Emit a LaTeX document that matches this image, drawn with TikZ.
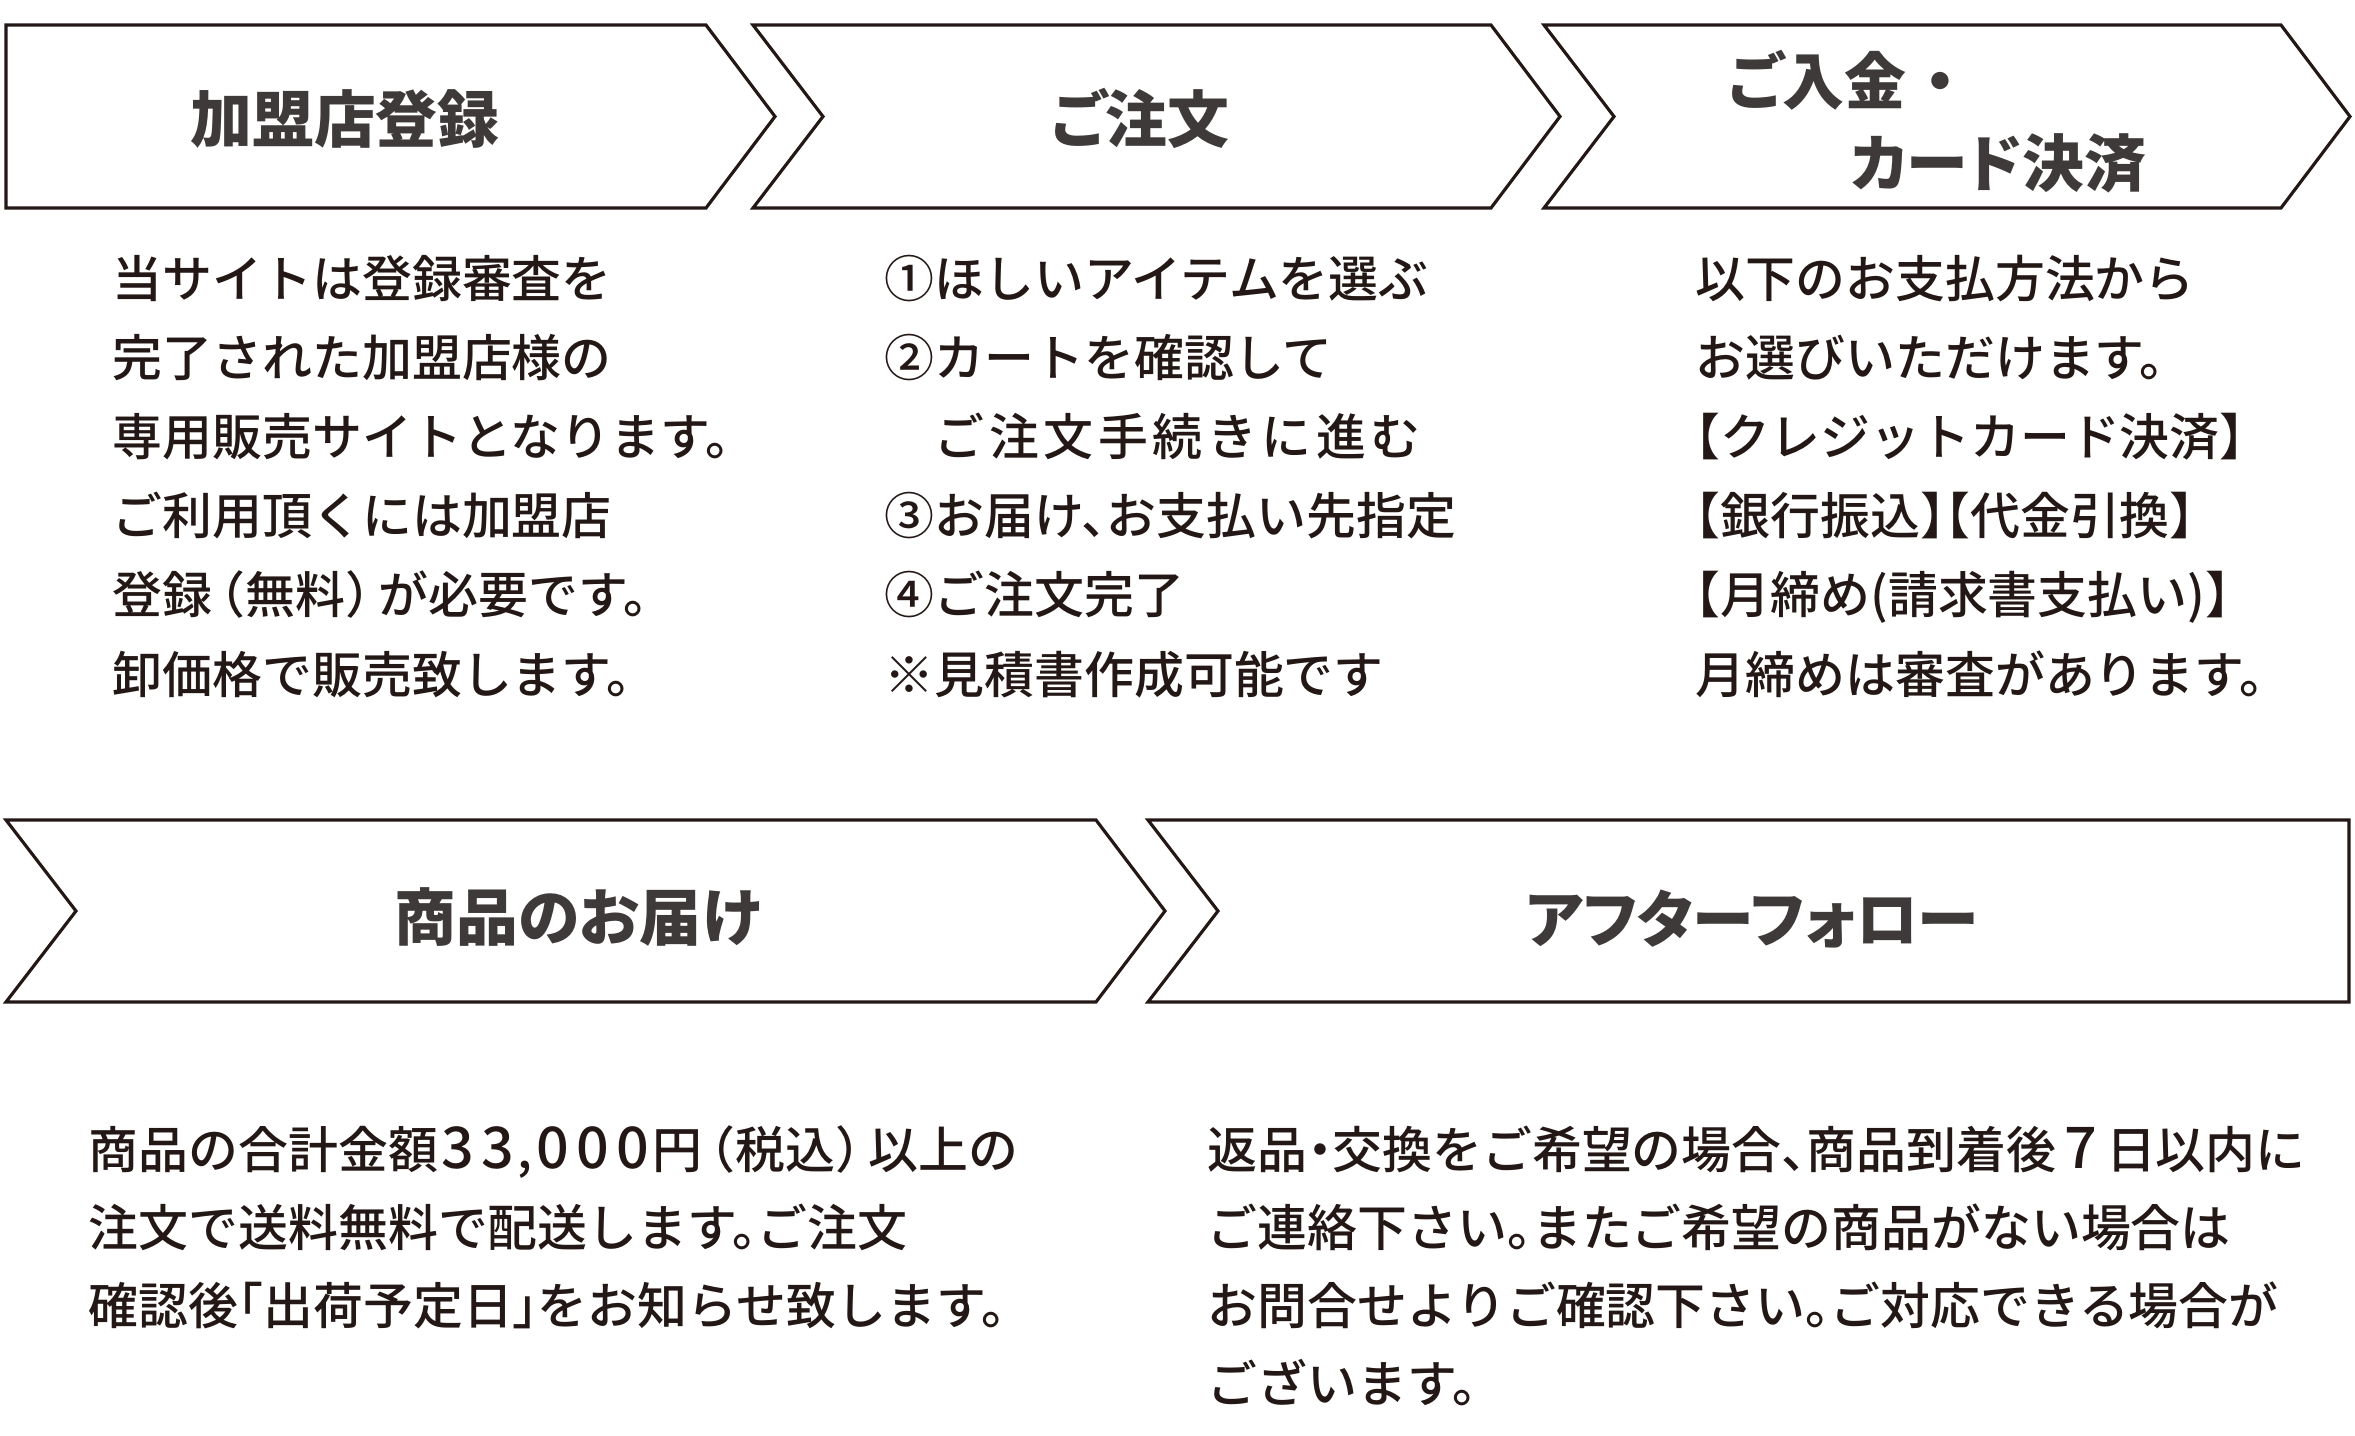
\documentclass[tikz,border=0pt]{standalone}
\usepackage{fontspec}
\setmainfont{Noto Sans CJK JP}
\newfontfamily\testojp[RawFeature=+halt]{Noto Sans CJK JP Medium}
\newfontfamily\titolojp[RawFeature=+palt]{Noto Sans CJK JP}
\definecolor{inchiostro}{HTML}{231815}
\definecolor{grafite}{HTML}{3E3A39}
\newcommand\cifra[2][.8em]{\makebox[#1]{\scalebox{1.15}{#2}}}

\begin{document}
\begin{tikzpicture}[
  x=0.1mm, y=-0.1mm,
  freccia/.style={draw=inchiostro, line width=0.9pt, line join=miter},
  titolo/.style={anchor=base, inner sep=0pt, text=grafite,
                 font=\titolojp\bfseries\fontsize{17.6}{17.6}\selectfont},
  testo/.style={anchor=base west, inner sep=0pt, text=inchiostro,
                font=\testojp\fontsize{14.2}{14.2}\selectfont}
]
\useasboundingbox (0,0) rectangle (2355,1436);

% frecce in alto
\draw[freccia] (6,25) -- (706,25) -- (775,116.5) -- (706,208) -- (6,208) -- cycle;
\foreach \a/\b in {753/1491, 1544/2281}
  \draw[freccia] (\a,25) -- (\b,25) -- (\b+69,116.5) -- (\b,208) -- (\a,208) -- (\a+70,116.5) -- cycle;

% frecce in basso
\draw[freccia] (6,820) -- (1096,820) -- (1165,911) -- (1096,1002) -- (6,1002) -- (76,911) -- cycle;
\draw[freccia] (1148,820) -- (2349,820) -- (2349,1002) -- (1148,1002) -- (1218,911) -- cycle;

% titoli
\node[titolo] (reg) at (345,143) {加盟店登録};
\node[titolo] (ord) at (1140,142) {ご注文};
\node[titolo, anchor=base west] (pagA) at (1728,104) {ご入金\hspace{.3em}・};
\node[titolo, anchor=base west] (pagB) at (1850,186) {カード決済};
\node[titolo] (cons) at (578,940) {商品のお届け};
\node[titolo] (dopo) at (1752,942) {アフターフォロー};

% testi
\foreach \riga [count=\i from 0] in {当サイトは登録審査を, 完了された加盟店様の,
    専用販売サイトとなります。, ご利用頂くには加盟店,
    {登録\,（無料）\,が必要です。}, 卸価格で販売致します。}
  \node[testo] (uno\i) at (112,{297+79.2*\i}) {\riga};

\foreach \riga [count=\i from 0] in {①ほしいアイテムを選ぶ, ②カートを確認して,
    {\hspace{1em}\makebox[48.6mm][s]{ご\hfill 注\hfill 文\hfill 手\hfill 続\hfill き\hfill に\hfill 進\hfill む}},
    ③お届け、お支払い先指定, ④ご注文完了, ※見積書作成可能です}
  \node[testo] (due\i) at (884,{297+79.2*\i}) {\riga};

\foreach \riga [count=\i from 0] in {以下のお支払方法から, お選びいただけます。,
    【クレジットカード決済】, 【銀行振込】【代金引換】,
    【月締め(請求書支払い)】, 月締めは審査があります。}
  \node[testo] (tre\i) at (1695,{297+79.2*\i}) {\riga};

\foreach \riga [count=\i from 0] in {{商品の合計金額\cifra3\cifra3,\cifra0\cifra0\cifra0円\,（税込）\,以上の},
    注文で送料無料で配送します。ご注文, 確認後「出荷予定日」をお知らせ致します。}
  \node[testo] (quattro\i) at (88,{1168+78*\i}) {\riga};

\foreach \riga [count=\i from 0] in {返品・交換をご希望の場合、商品到着後\cifra[1em]7日以内に,
    ご連絡下さい。またご希望の商品がない場合は,
    お問合せよりご確認下さい。ご対応できる場合が, ございます。}
  \node[testo] (cinque\i) at (1207,{1168+78*\i}) {\riga};

\end{tikzpicture}
\end{document}
